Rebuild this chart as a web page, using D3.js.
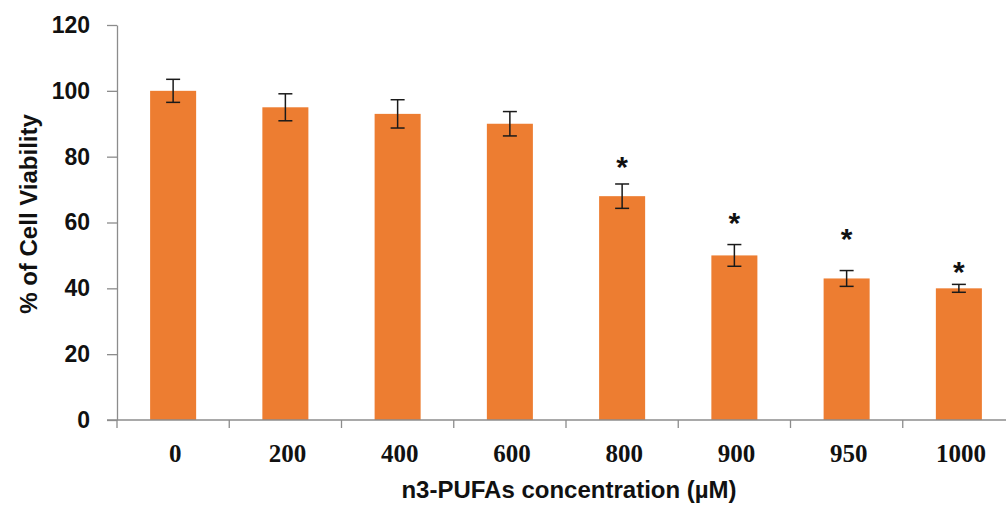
<!DOCTYPE html>
<html>
<head>
<meta charset="utf-8">
<script src="https://cdn.jsdelivr.net/npm/d3@7"></script>
<style>
  body { margin: 0; background: #fff; }
  svg { display: block; }
</style>
</head>
<body>
<div id="chart"></div>
<script>
const concentrations = ["0", "200", "400", "600", "800", "900", "950", "1000"];
const viability = [100, 95, 93, 90, 68, 50, 43, 40];
const errors = [3.5, 4.1, 4.3, 3.7, 3.7, 3.3, 2.4, 1.2];
// height (in % units) where the significance star sits; null = no star
const starLevels = [null, null, null, null, 79, 62, 57, 47];
const yTicks = [0, 20, 40, 60, 80, 100, 120];

const width = 1006, height = 506;
const plotLeft = 117, plotRight = 1015, plotTop = 25, plotBottom = 420;

const svg = d3.select("#chart").append("svg")
  .attr("width", width)
  .attr("height", height);

const x = d3.scaleBand()
  .domain(concentrations)
  .range([plotLeft, plotRight])
  .padding(0);

const y = d3.scaleLinear()
  .domain([0, 120])
  .range([plotBottom, plotTop]);

const barW = x.bandwidth() * 0.41;

// y axis
const yAxis = svg.append("g")
  .attr("transform", `translate(${plotLeft},0)`)
  .call(d3.axisLeft(y).tickValues(yTicks).tickSize(10).tickPadding(17).tickSizeOuter(0));
yAxis.select(".domain").attr("stroke", "#8c8c8c").attr("stroke-width", 1.3);
yAxis.selectAll(".tick line").attr("stroke", "#8c8c8c").attr("stroke-width", 1.3);
yAxis.selectAll(".tick text")
  .attr("font-family", "'Liberation Sans', Arial, sans-serif")
  .attr("font-weight", "bold")
  .attr("font-size", 23)
  .attr("fill", "#111");

// bars
svg.append("g").selectAll("rect")
  .data(concentrations)
  .join("rect")
  .attr("x", (d) => x(d) + (x.bandwidth() - barW) / 2)
  .attr("y", (d, i) => y(viability[i]))
  .attr("width", barW)
  .attr("height", (d, i) => y(0) - y(viability[i]))
  .attr("fill", "#ED7D31");

// x axis line and boundary ticks
svg.append("line")
  .attr("x1", plotLeft - 10).attr("x2", width)
  .attr("y1", plotBottom).attr("y2", plotBottom)
  .attr("stroke", "#8c8c8c").attr("stroke-width", 1.3);

svg.append("g").selectAll("line")
  .data(concentrations)
  .join("line")
  .attr("x1", (d) => x(d)).attr("x2", (d) => x(d))
  .attr("y1", plotBottom).attr("y2", plotBottom + 8)
  .attr("stroke", "#8c8c8c").attr("stroke-width", 1.3);

svg.append("g").selectAll("text")
  .data(concentrations)
  .join("text")
  .attr("x", (d) => x(d) + x.bandwidth() / 2 + 2)
  .attr("y", 462)
  .attr("text-anchor", "middle")
  .attr("font-family", "'Liberation Serif', 'Times New Roman', serif")
  .attr("font-weight", "bold")
  .attr("font-size", 25)
  .attr("fill", "#111")
  .text((d) => d);

// error bars
const eb = svg.append("g")
  .attr("stroke", "#1a1a1a")
  .attr("stroke-width", 1.5);

concentrations.forEach((c, i) => {
  const cx = x(c) + x.bandwidth() / 2;
  const y1 = y(viability[i] + errors[i]);
  const y2 = y(viability[i] - errors[i]);
  eb.append("line").attr("x1", cx).attr("x2", cx).attr("y1", y1).attr("y2", y2);
  eb.append("line").attr("x1", cx - 7).attr("x2", cx + 7).attr("y1", y1).attr("y2", y1);
  eb.append("line").attr("x1", cx - 7).attr("x2", cx + 7).attr("y1", y2).attr("y2", y2);
});

// significance stars
svg.append("g").selectAll("text")
  .data(concentrations.filter((d, i) => starLevels[i] != null))
  .join("text")
  .attr("x", (d) => x(d) + x.bandwidth() / 2)
  .attr("y", (d) => y(starLevels[concentrations.indexOf(d)]) + 17)
  .attr("text-anchor", "middle")
  .attr("font-family", "'Liberation Sans', Arial, sans-serif")
  .attr("font-weight", "bold")
  .attr("font-size", 30)
  .attr("fill", "#111")
  .text("*");

// axis titles
svg.append("text")
  .attr("x", 569)
  .attr("y", 498)
  .attr("text-anchor", "middle")
  .attr("font-family", "'Liberation Sans', Arial, sans-serif")
  .attr("font-weight", "bold")
  .attr("font-size", 24)
  .attr("fill", "#111")
  .text("n3-PUFAs concentration (µM)");

svg.append("text")
  .attr("transform", "translate(37,214) rotate(-90)")
  .attr("text-anchor", "middle")
  .attr("font-family", "'Liberation Sans', Arial, sans-serif")
  .attr("font-weight", "bold")
  .attr("font-size", 24)
  .attr("fill", "#111")
  .text("% of Cell Viability");
</script>
</body>
</html>
